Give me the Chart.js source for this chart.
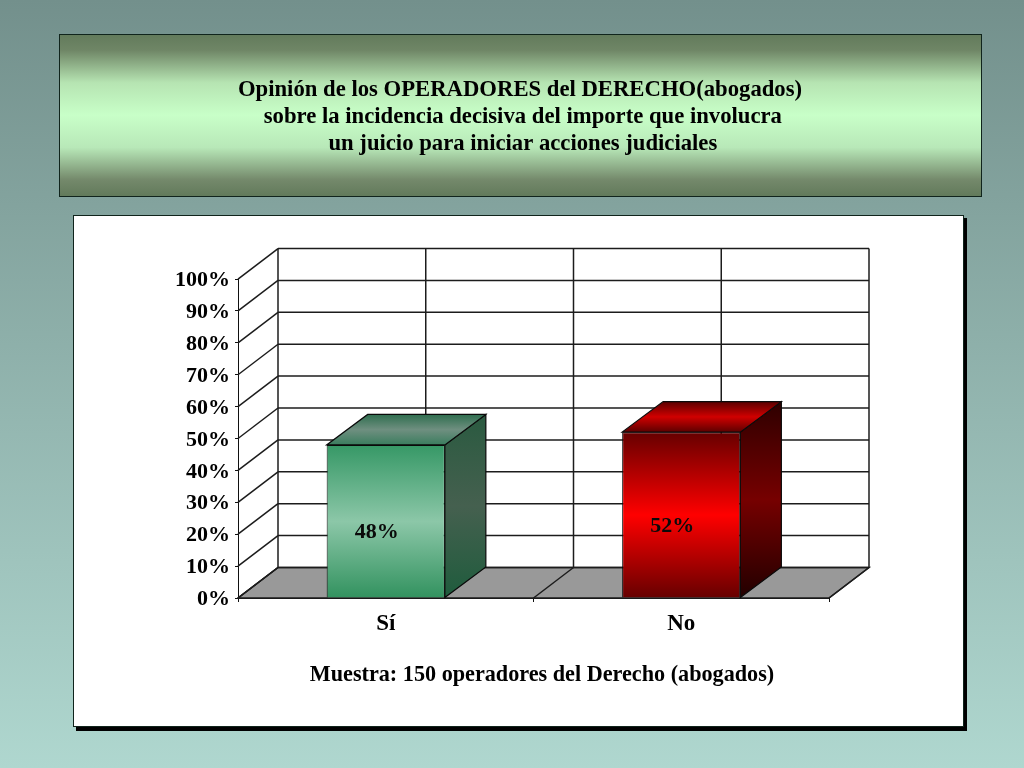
<!DOCTYPE html>
<html>
<head>
<meta charset="utf-8">
<style>html,body{margin:0;padding:0;background:#8fb0aa}canvas{display:block}</style>
<script src="https://cdn.jsdelivr.net/npm/chart.js@4"></script>
</head>
<body>
<canvas id="c" width="1024" height="768"></canvas>
<script>
const categories = ['Sí', 'No'];
const values = [48, 52];
const titleLines = [
  'Opinión de los OPERADORES del DERECHO(abogados)',
  ' sobre la incidencia decisiva del importe que involucra',
  ' un juicio para iniciar acciones judiciales'
];
const footnote = 'Muestra: 150 operadores del Derecho (abogados)';
const serif = '"Liberation Serif", "Times New Roman", serif';
const depthX = 40, depthY = 30.5;
const faces = [
  {front:['#369866','#8cc7a8','#32925f'], side:['#2a5a40','#45604f','#1f5c3d'], top:['#3a7d5e','#6f8f80','#2f6e4f']},
  {front:['#660000','#ff0000','#660000'], side:['#2e0000','#760000','#220000'], top:['#5c0000','#d00000','#5c0000']}
];
function grad(ctx, y0, y1, stops) {
  const g = ctx.createLinearGradient(0, y0, 0, y1);
  stops.forEach((s, i) => g.addColorStop(i / (stops.length - 1), s));
  return g;
}
function line(ctx, x0, y0, x1, y1) {
  ctx.beginPath(); ctx.moveTo(x0, y0); ctx.lineTo(x1, y1); ctx.stroke();
}
function poly(ctx, pts, fill) {
  ctx.beginPath();
  pts.forEach((p, i) => i ? ctx.lineTo(p[0], p[1]) : ctx.moveTo(p[0], p[1]));
  ctx.closePath();
  if (fill) { ctx.fillStyle = fill; ctx.fill(); }
  ctx.stroke();
}
const stage = {
  id: 'stage',
  afterLayout(chart) {
    // centre the heading on its banner rather than on the plot
    chart.titleBlock.left = 59;
    chart.titleBlock.right = 981;
  },
  beforeDraw(chart) {
    const c = chart.ctx;
    c.save();
    c.fillStyle = grad(c, 0, 768, ['#73908c', '#afd7cf']);
    c.fillRect(0, 0, 1024, 768);
    const g = c.createLinearGradient(0, 34, 0, 196);
    [[0,'#627a5b'],[0.1,'#6f8666'],[0.3,'#b6e4b2'],[0.5,'#c8ffc8'],[0.7,'#b8e8b8'],[0.9,'#74896b'],[1,'#627a5b']]
      .forEach(s => g.addColorStop(s[0], s[1]));
    c.fillStyle = g;
    c.fillRect(59.5, 34.5, 922, 162);
    c.strokeStyle = '#10241c'; c.lineWidth = 1;
    c.strokeRect(59.5, 34.5, 922, 162);
    c.fillStyle = '#000';
    c.fillRect(76, 218, 891, 513);
    c.fillStyle = '#fff';
    c.fillRect(73.5, 215.5, 890, 511);
    c.strokeRect(73.5, 215.5, 890, 511);
    c.restore();
  },
  beforeDatasetsDraw(chart) {
    const c = chart.ctx, {x, y} = chart.scales;
    const L = x.left, R = x.right, Y0 = y.getPixelForValue(0), Y100 = y.getPixelForValue(100);
    c.save();
    c.strokeStyle = '#1c1c1c'; c.lineWidth = 1.5;
    poly(c, [[L, Y0], [R, Y0], [R + depthX, Y0 - depthY], [L + depthX, Y0 - depthY]], '#999999');
    y.ticks.forEach(t => {
      const py = y.getPixelForValue(t.value);
      line(c, L, py, L + depthX, py - depthY);
      line(c, L + depthX, py - depthY, R + depthX, py - depthY);
    });
    const half = (R - L) / categories.length;
    for (let i = 0; i <= categories.length; i++) {
      const px = L + half * i;
      line(c, px, Y0, px + depthX, Y0 - depthY);
      line(c, px + depthX, Y0 - depthY, px + depthX, Y100 - depthY);
    }
    categories.forEach((_, i) => {
      const px = x.getPixelForValue(i) + depthX;
      line(c, px, Y0 - depthY, px, Y100 - depthY);
    });
    c.restore();
  },
  afterDatasetsDraw(chart) {
    const c = chart.ctx, meta = chart.getDatasetMeta(0);
    c.save();
    c.strokeStyle = '#0a0a0a'; c.lineWidth = 1.2;
    meta.data.forEach((b, i) => {
      const l = b.x - b.width / 2, r = b.x + b.width / 2, t = b.y, base = b.base;
      const dxb = depthX + 1;
      poly(c, [[r, t], [r + dxb, t - depthY], [r + dxb, base - depthY], [r, base]],
        grad(c, t - depthY, base, faces[i].side));
      poly(c, [[l, t], [r, t], [r + dxb, t - depthY], [l + dxb, t - depthY]],
        grad(c, t - depthY, t, faces[i].top.slice().reverse()));
      c.fillStyle = '#0a0a0a';
      c.font = 'bold 22px ' + serif;
      c.textAlign = 'center'; c.textBaseline = 'middle';
      c.fillText(values[i] + '%', b.x - 9, (t + base) / 2 + 11.5);
    });
    c.fillStyle = '#000';
    c.font = 'bold 22.2px ' + serif;
    c.textAlign = 'center'; c.textBaseline = 'middle';
    c.fillText(footnote, 542, 675);
    c.restore();
  }
};
new Chart(document.getElementById('c'), {
  type: 'bar',
  data: {
    labels: categories,
    datasets: [{
      data: values,
      borderColor: '#0a0a0a',
      borderWidth: 1,
      categoryPercentage: 0.4,
      barPercentage: 1,
      backgroundColor(ctx) {
        const ch = ctx.chart;
        if (!ch.chartArea || ctx.dataIndex === undefined) return '#888';
        const s = ch.scales.y;
        return grad(ch.ctx, s.getPixelForValue(values[ctx.dataIndex]), s.getPixelForValue(0), faces[ctx.dataIndex].front);
      }
    }]
  },
  plugins: [stage],
  options: {
    responsive: false,
    animation: false,
    devicePixelRatio: 1,
    layout: {autoPadding: false, padding: {left: 0, right: 195, top: 0, bottom: 0}},
    plugins: {
      legend: {display: false},
      tooltip: {enabled: false},
      title: {
        display: true,
        text: titleLines,
        color: '#000',
        font: {family: serif, size: 22.7, weight: 'bold', lineHeight: 1.19},
        padding: {top: 77, bottom: 121}
      }
    },
    scales: {
      x: {
        afterFit(s) { s.height = 170; },
        grid: {drawOnChartArea: false, drawTicks: true, tickLength: 4, color: '#111'},
        border: {display: true, color: '#111', width: 1},
        ticks: {color: '#000', padding: 8, maxRotation: 0, font: {family: serif, size: 23, weight: 'bold'}}
      },
      y: {
        min: 0, max: 100,
        afterFit(s) { s.width = 238; },
        grid: {drawOnChartArea: false, drawTicks: true, tickLength: 3, color: '#111'},
        border: {display: true, color: '#111', width: 1},
        ticks: {stepSize: 10, color: '#000', padding: 5, labelOffset: 1.5, font: {family: serif, size: 22, weight: 'bold'},
          callback: v => v + '%'}
      }
    }
  }
});
</script>
</body>
</html>
